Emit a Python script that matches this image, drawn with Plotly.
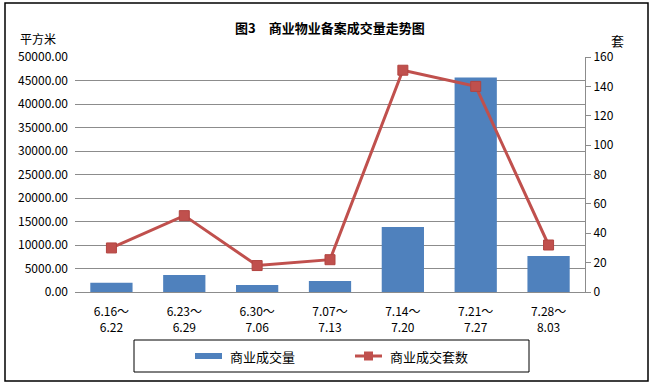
import plotly.graph_objects as go

categories = ["6.16～<br>6.22", "6.23～<br>6.29", "6.30～<br>7.06", "7.07～<br>7.13",
              "7.14～<br>7.20", "7.21～<br>7.27", "7.28～<br>8.03"]
area_values = [1950, 3600, 1500, 2350, 13850, 45650, 7650]   # 商业成交量 (平方米)
unit_values = [30, 52, 18, 22, 151, 140, 32]                 # 商业成交套数 (套)
left_ticks = [i * 5000 for i in range(11)]
left_tick_labels = [f"{v:.2f}" for v in left_ticks]
right_ticks = [i * 20 for i in range(9)]
series_names = ["商业成交量", "商业成交套数"]

FONT = "SimSun, 'Noto Sans CJK SC', sans-serif"
GRID = "#8c8c8c"
BLUE = "#4F81BD"
RED = "#C0504D"

fig = go.Figure()
fig.add_trace(go.Bar(
    x=categories, y=area_values, name=series_names[0],
    marker=dict(color=BLUE, line=dict(width=0)), yaxis="y", showlegend=False))
fig.add_trace(go.Scatter(
    x=categories, y=unit_values, name=series_names[1], mode="lines+markers",
    line=dict(color=RED, width=3),
    marker=dict(symbol="square", size=10, color=RED,
                line=dict(color="#B24440", width=1)),
    yaxis="y2", showlegend=False))


def px_x(p):
    return (p - 75) / 510


def px_y(p):
    return (292 - p) / 235


def label(text, x, y, size=13, xanchor="center"):
    return dict(text=text, xref="paper", yref="paper", x=px_x(x), y=px_y(y),
                xanchor=xanchor, yanchor="middle", showarrow=False,
                font=dict(size=size, family=FONT))


legend_y = 356
shapes = [
    dict(type="rect", xref="paper", yref="paper", x0=px_x(5), x1=px_x(648),
         y0=px_y(381), y1=px_y(3), line=dict(color="black", width=1.5)),
    dict(type="rect", xref="paper", yref="paper", x0=px_x(134), x1=px_x(529),
         y0=px_y(372), y1=px_y(340), line=dict(color="black", width=1)),
    # legend symbols
    dict(type="rect", xref="paper", yref="paper", x0=px_x(195), x1=px_x(222),
         y0=px_y(legend_y + 3), y1=px_y(legend_y - 3), fillcolor=BLUE,
         line=dict(width=0)),
    dict(type="line", xref="paper", yref="paper", x0=px_x(355), x1=px_x(382),
         y0=px_y(legend_y), y1=px_y(legend_y), line=dict(color=RED, width=3)),
    dict(type="rect", xref="paper", yref="paper", x0=px_x(364), x1=px_x(373),
         y0=px_y(legend_y + 4.5), y1=px_y(legend_y - 4.5), fillcolor=RED,
         line=dict(width=0)),
]

fig.update_layout(
    width=655, height=387,
    margin=dict(l=75, r=70, t=57, b=95),
    paper_bgcolor="white", plot_bgcolor="white",
    font=dict(family=FONT, size=12, color="#000"),
    bargap=0.42,
    showlegend=False,
    xaxis=dict(type="category", showgrid=False, showline=True, linecolor=GRID,
               ticks="", tickfont=dict(size=12), ticklabelstandoff=9, fixedrange=True),
    yaxis=dict(range=[0, 50000], tickvals=left_ticks, ticktext=left_tick_labels,
               showgrid=True, gridcolor=GRID, gridwidth=1, zeroline=False,
               showline=False, ticks="", tickfont=dict(size=12), ticklabelstandoff=6),
    yaxis2=dict(range=[0, 160], tickvals=right_ticks, overlaying="y", side="right",
                showgrid=False, zeroline=False, showline=True, linecolor=GRID,
                ticks="outside", ticklen=5, tickcolor=GRID, tickfont=dict(size=12)),
    shapes=shapes,
    annotations=[
        label("<b>图3　商业物业备案成交量走势图</b>", 330, 28),
        label("平方米", 38, 38, size=12),
        label("套", 617, 40),
        label(series_names[0], 228, legend_y, xanchor="left"),
        label(series_names[1], 388, legend_y, xanchor="left"),
    ],
)

fig.write_html("out.html")
